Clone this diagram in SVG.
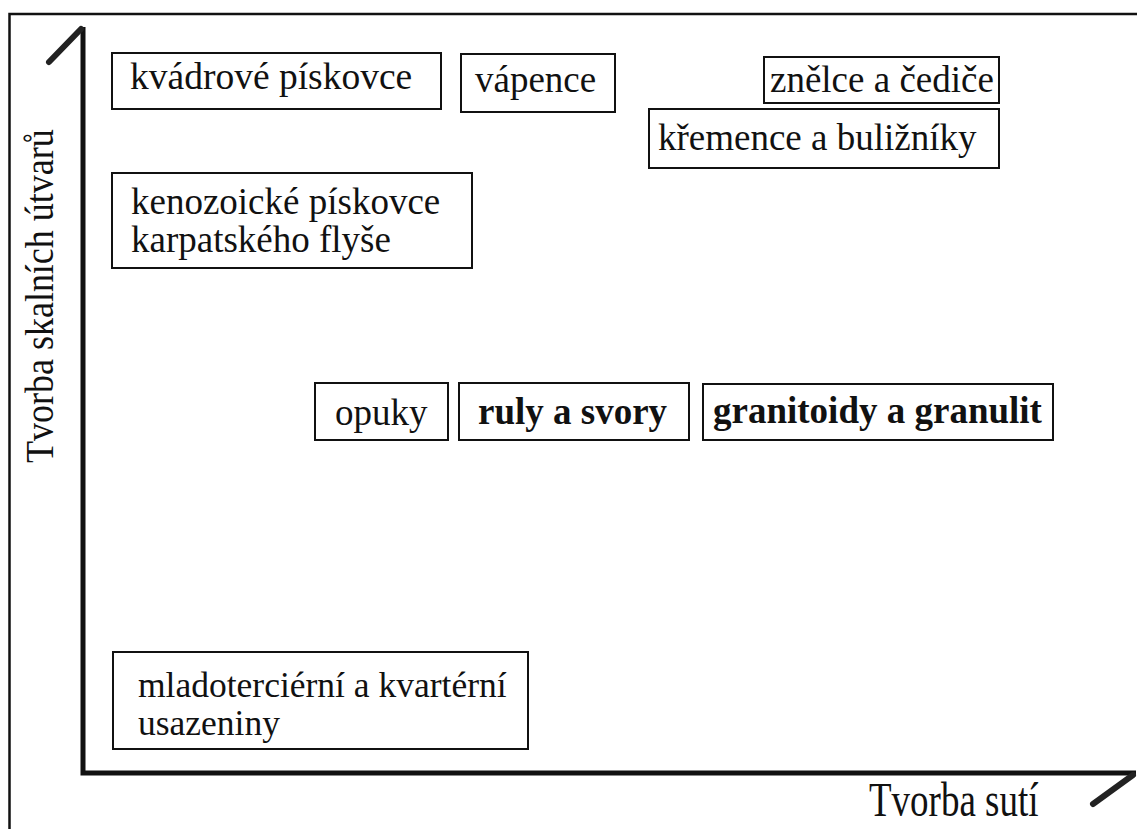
<svg xmlns="http://www.w3.org/2000/svg" width="1137" height="829" viewBox="0 0 1137 829">
<style>
.box{fill:#fff;stroke:#111;stroke-width:2}
.t{font-family:"Liberation Serif","Times New Roman",serif;font-size:37px;fill:#111}
.b{font-weight:bold}
.s36{font-size:36px}
.s355{font-size:35.5px}
.s375{font-size:37.5px}
.axis{fill:none;stroke:#111;stroke-width:5;stroke-linecap:butt}
.tick{fill:none;stroke:#222;stroke-width:6;stroke-linecap:round}
</style>
<rect width="1137" height="829" fill="#fff"/>
<path d="M9.5 829 V14 H1137" fill="none" stroke="#111" stroke-width="2.5"/>
<g id="connectors">
<path class="axis" d="M83 27 V773 H1136"/>
<path class="tick" d="M49 62 L81 29"/>
<path class="tick" d="M1093 804 L1133 775"/>
</g>
<g id="axis-y-label"><text class="t s36" transform="translate(53,463) rotate(-90) scale(1,1.1)">Tvorba skalních útvarů</text></g>
<g id="axis-x-label"><text class="t" transform="translate(869,816) scale(1,1.3)">Tvorba sutí</text></g>
<g id="n-kvadrove"><rect class="box" x="112" y="53" width="329" height="56"/><text class="t s375" x="130" y="89">kvádrové pískovce</text></g>
<g id="n-vapence"><rect class="box" x="461" y="54" width="154" height="58"/><text class="t" x="475" y="92">vápence</text></g>
<g id="n-znelce"><rect class="box" x="764" y="57" width="235" height="46"/><text class="t" x="770" y="91.5">znělce a čediče</text></g>
<g id="n-kremence"><rect class="box" x="649" y="109" width="350" height="59"/><text class="t" x="658" y="150">křemence a buližníky</text></g>
<g id="n-kenozoicke"><rect class="box" x="112" y="173" width="360" height="95"/><text class="t" x="131" y="214">kenozoické pískovce</text><text class="t" x="131" y="252">karpatského flyše</text></g>
<g id="n-opuky"><rect class="box" x="315" y="383" width="133" height="57"/><text class="t" x="335" y="425">opuky</text></g>
<g id="n-ruly"><rect class="box" x="459" y="383" width="230" height="57"/><text class="t b" x="478" y="424">ruly a svory</text></g>
<g id="n-granitoidy"><rect class="box" x="703" y="384" width="350" height="56"/><text class="t b" x="713" y="423">granitoidy a granulit</text></g>
<g id="n-mlado"><rect class="box" x="113" y="652" width="415" height="97"/><text class="t s355" x="138" y="697">mladoterciérní a kvartérní</text><text class="t s355" x="138" y="735">usazeniny</text></g>
</svg>
